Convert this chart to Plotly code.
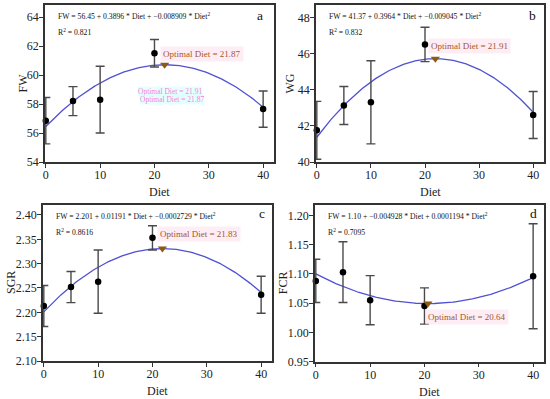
import numpy as np
import plotly.graph_objects as go

diet = [0, 5, 10, 20, 40]

fw_mean = [56.85, 58.2, 58.3, 61.5, 57.65]
fw_err = [1.6, 1.0, 2.3, 0.95, 1.25]
wg_mean = [41.75, 43.12, 43.3, 46.5, 42.6]
wg_err = [1.6, 1.05, 2.3, 0.95, 1.3]
sgr_mean = [2.213, 2.252, 2.263, 2.353, 2.236]
sgr_err = [0.042, 0.032, 0.065, 0.025, 0.038]
fcr_mean = [1.088, 1.103, 1.055, 1.045, 1.096]
fcr_err = [0.037, 0.052, 0.042, 0.031, 0.09]

# fitted quadratic coefficients (c0, c1, c2) as printed on the chart
fw_coef = [56.45, 0.3896, -0.008909]
wg_coef = [41.37, 0.3964, -0.009045]
sgr_coef = [2.201, 0.01191, -0.0002729]
fcr_coef = [1.10, -0.004928, 0.0001194]

optimal = [21.87, 21.91, 21.83, 20.64]

eq_texts = [
    "FW = 56.45 + 0.3896 * Diet + \u22120.008909 * Diet<sup>2</sup>",
    "FW = 41.37 + 0.3964 * Diet + \u22120.009045 * Diet<sup>2</sup>",
    "FW = 2.201 + 0.01191 * Diet + \u22120.0002729 * Diet<sup>2</sup>",
    "FW = 1.10 + \u22120.004928 * Diet + 0.0001194 * Diet<sup>2</sup>",
]
r2_texts = ["R<sup>2</sup> = 0.821", "R<sup>2</sup> = 0.832", "R<sup>2</sup> = 0.8616", "R<sup>2</sup> = 0.7095"]
letters = ["a", "b", "c", "d"]
ytitles = ["FW", "WG", "SGR", "FCR"]

means = [fw_mean, wg_mean, sgr_mean, fcr_mean]
errs = [fw_err, wg_err, sgr_err, fcr_err]
coefs = [fw_coef, wg_coef, sgr_coef, fcr_coef]

W, H = 550, 399
# panel plot-area pixel boxes (left, right, top, bottom)
boxes = [(45, 274, 5, 162), (316, 544, 5, 162), (43, 272, 205, 361), (315, 544, 205, 361.5)]
yranges = [[54, 64.83], [40, 48.68], [2.10, 2.4205], [0.95, 1.218]]
ydticks = [2, 2, 0.05, 0.05]
yfmt = ["d", "d", ".2f", ".2f"]
xrange_ = [-0.15, 42]
# label offsets in px (xshift of the label's left edge, yshift)
lab_shift = [(-1, 11), (-4, 13), (-1, 15), (1, -13)]
LAB_HALF = 38
ytitle_off = [23, 27, 32, 32]
letter_pos = [(14, 10), (12, 10), (10, 8), (11, 8)]

FONT = "Liberation Serif"
AX = "#333333"
CURVE = "#5050d4"
BROWN = "#a0582a"
TRI = "#8b5a14"

fig = go.Figure()
layout = dict(width=W, height=H, margin=dict(l=0, r=0, t=0, b=0, autoexpand=False),
              paper_bgcolor="white", plot_bgcolor="white", showlegend=False,
              font=dict(family=FONT, size=12, color="#222"))
annotations = []

xs = np.linspace(0, 40, 201)
for i in range(4):
    k = "" if i == 0 else str(i + 1)
    xa, ya = "x" + k, "y" + k
    l, r, t, b = boxes[i]
    layout["xaxis" + k] = dict(domain=[l / W, r / W], range=xrange_, anchor=ya,
                               tickvals=[0, 10, 20, 30, 40], ticks="outside", ticklen=4,
                               tickcolor=AX, linecolor=AX, linewidth=1.5, mirror=True,
                               showgrid=False, zeroline=False, automargin=False,
                               ticklabelstandoff=-3,
                               tickfont=dict(family=FONT, size=12, color="#222"))
    layout["yaxis" + k] = dict(domain=[1 - b / H, 1 - t / H], range=yranges[i], anchor=xa,
                               dtick=ydticks[i], tick0=yranges[i][0], tickformat=yfmt[i],
                               ticks="outside", ticklen=4, tickcolor=AX, linecolor=AX,
                               linewidth=1.5, mirror=True, showgrid=False, zeroline=False,
                               automargin=False, ticklabelstandoff=-2,
                               tickfont=dict(family=FONT, size=12, color="#222"))
    annotations.append(dict(x=(l + r) / 2 / W, y=1 - (b + 30) / H, xref="paper", yref="paper",
                            text="Diet", showarrow=False, xanchor="center", yanchor="middle",
                            font=dict(family=FONT, size=12, color="#222")))
    annotations.append(dict(x=(l - ytitle_off[i]) / W, y=1 - (t + b) / 2 / H, xref="paper",
                            yref="paper", text=ytitles[i], showarrow=False, textangle=-90,
                            xanchor="center", yanchor="middle",
                            font=dict(family=FONT, size=12, color="#222")))
    c0, c1, c2 = coefs[i]
    ys = c0 + c1 * xs + c2 * xs ** 2
    fig.add_trace(go.Scatter(x=xs, y=ys, mode="lines", line=dict(color=CURVE, width=1.3),
                             xaxis=xa, yaxis=ya, hoverinfo="skip"))
    fig.add_trace(go.Scatter(x=diet, y=means[i], mode="markers",
                             marker=dict(color="black", size=6.5),
                             error_y=dict(type="data", array=errs[i], color="#4a4a4a",
                                          thickness=1.4, width=4.5),
                             xaxis=xa, yaxis=ya, cliponaxis=False))
    xo = optimal[i]
    yo = c0 + c1 * xo + c2 * xo ** 2
    xs_, ys_ = lab_shift[i]
    annotations.append(dict(x=xo, y=yo, xref=xa, yref=ya, xanchor="center", yanchor="middle",
                            xshift=xs_ + LAB_HALF, yshift=ys_,
                            text="Optimal Diet = %.2f" % xo, showarrow=False,
                            font=dict(family=FONT, size=9, color=BROWN),
                            bgcolor="rgba(255,228,240,0.65)", borderpad=2))
    fig.add_trace(go.Scatter(x=[xo], y=[yo], mode="markers",
                             marker=dict(symbol="triangle-down", color=TRI, size=8),
                             xaxis=xa, yaxis=ya))
    annotations.append(dict(x=(l + 11) / W, y=1 - (t + 10.7) / H, xref="paper", yref="paper",
                            xanchor="left", yanchor="middle", text=eq_texts[i],
                            showarrow=False, font=dict(family=FONT, size=7.7, color="#111")))
    annotations.append(dict(x=(l + 11) / W, y=1 - (t + 26.7) / H, xref="paper", yref="paper",
                            xanchor="left", yanchor="middle", text=r2_texts[i],
                            showarrow=False, font=dict(family=FONT, size=7.7, color="#111")))
    lx, ly = letter_pos[i]
    annotations.append(dict(x=(r - lx) / W, y=1 - (t + ly) / H, xref="paper", yref="paper",
                            xanchor="center", yanchor="middle", text=letters[i],
                            showarrow=False, font=dict(family=FONT, size=13.5, color="#111")))

# faint ghost labels present in panel a
annotations.append(dict(x=16.8, y=58.83, xref="x", yref="y", xanchor="left", showarrow=False,
                        text="Optimal Diet = 21.91", font=dict(family=FONT, size=7.5, color="#ff80d0"),
                        bgcolor="rgba(215,255,255,0.7)", borderpad=0))
annotations.append(dict(x=17.1, y=58.28, xref="x", yref="y", xanchor="left", showarrow=False,
                        text="Optimal Diet = 21.87", font=dict(family=FONT, size=7.5, color="#ff80d0"),
                        bgcolor="rgba(215,255,255,0.7)", borderpad=0))

layout["annotations"] = annotations
fig.update_layout(**layout)
fig.write_html("out.html", config={"displayModeBar": False},
               post_script="document.body.style.margin='0';")
